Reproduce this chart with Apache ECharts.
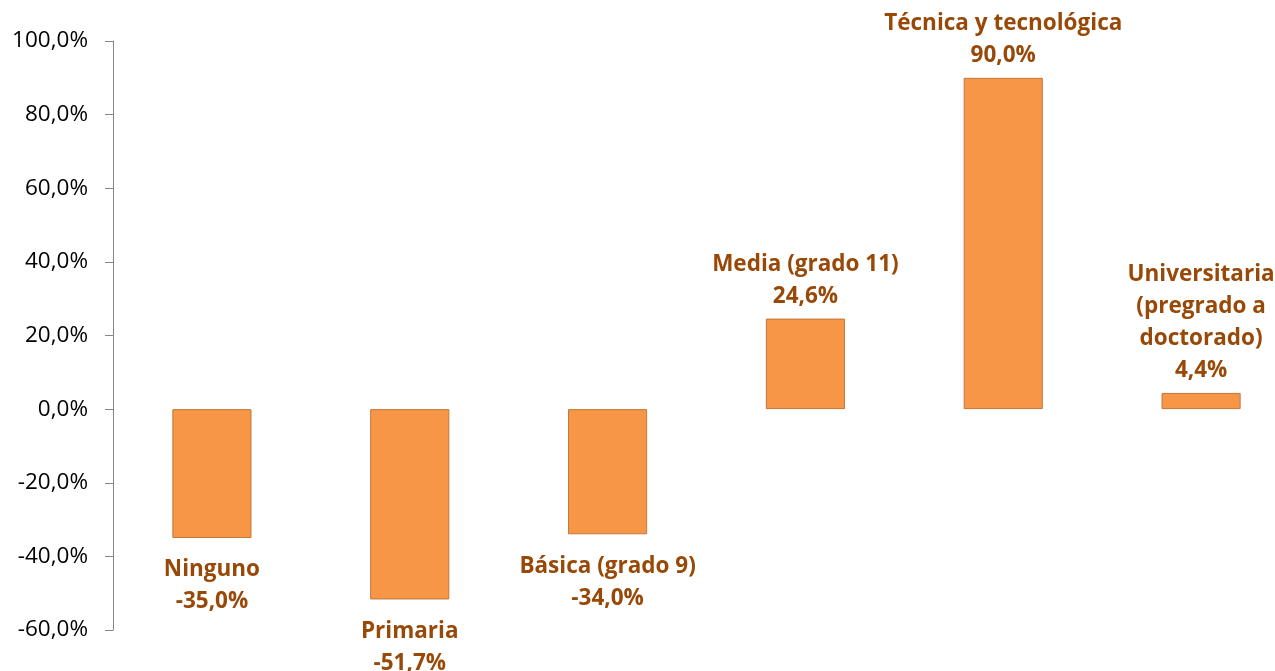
<!DOCTYPE html>
<html>
<head>
<meta charset="utf-8">
<script src="https://cdn.jsdelivr.net/npm/echarts@6/dist/echarts.min.js"></script>
<style>
  html, body { margin: 0; padding: 0; background: #fff; }
  #main { width: 1275px; height: 671px; }
</style>
</head>
<body>
<div id="main"></div>
<script>
// niveles educativos y variacion
var categories = ["Ninguno", "Primaria", "Básica (grado 9)", "Media (grado 11)", "Técnica y tecnológica", "Universitaria\n(pregrado a\ndoctorado)"];
var values = [-35.0, -51.7, -34.0, 24.6, 90.0, 4.4];

function pct(v) {
  return v.toFixed(1).replace(".", ",") + "%";
}

var myChart = echarts.init(document.getElementById("main"));

var option = {
  animation: false,
  grid: {
    left: 113,
    top: 41,
    right: -25,
    height: 589,
    outerBoundsMode: "none",
  },
  xAxis: {
    type: "category",
    data: categories,
    axisLine: { show: false },
    axisTick: { show: false },
    axisLabel: { show: false },
  },
  yAxis: {
    type: "value",
    min: -60,
    max: 100,
    interval: 20,
    splitLine: { show: false },
    axisLine: { show: true, lineStyle: { color: "#868686", width: 1 } },
    axisTick: { show: true, length: 8, lineStyle: { color: "#868686" } },
    axisLabel: {
      margin: 25,
      fontSize: 22.5,
      color: "#000",
      fontFamily: "Open Sans",
      formatter: function (v) { return pct(v); },
    },
  },
  series: [
    {
      type: "bar",
      barWidth: "40%",
      data: values.map(function (v) {
        return {
          value: v,
          label: { position: v < 0 ? "bottom" : "top", distance: v < 0 ? 16 : 6 },
        };
      }),
      itemStyle: {
        color: "#F79646",
        borderColor: "#C0783C",
        borderWidth: 1,
      },
      label: {
        show: true,
        fontSize: 22.5,
        fontWeight: "bold",
        fontFamily: "Open Sans",
        color: "#984807",
        lineHeight: 32,
        align: "center",
        formatter: function (p) { return p.name + "\n" + pct(p.value); },
      },
    },
  ],
};

myChart.setOption(option);
</script>
</body>
</html>
